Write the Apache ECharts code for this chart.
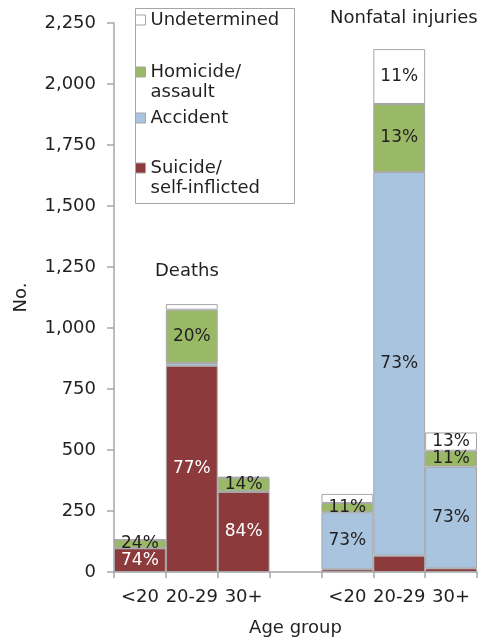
<!DOCTYPE html>
<html>
<head>
<meta charset="utf-8">
<script src="https://cdn.jsdelivr.net/npm/echarts@6/dist/echarts.min.js"></script>
<style>
  html, body { margin: 0; padding: 0; background: #fff; }
  #chart { width: 484px; height: 642px; }
</style>
</head>
<body>
<div id="chart"></div>
<script>
// age groups, deaths first then nonfatal injuries (empty slot between)
const categories = ['<20', '20-29', '30+', '', '<20', '20-29', '30+']

const suicide = [97, 845, 328, null, 11, 67, 15]
const accident = [2, 12, 3, null, 234, 1572, 417]
const homicide = [33, 218, 55, null, 38, 279, 65]
const undetermined = [1, 23, 4, null, 37, 225, 75]

const suicidePct = ['74%', '77%', '84%', '', '', '', '']
const accidentPct = ['', '', '', '', '73%', '73%', '73%']
const homicidePct = ['24%', '20%', '14%', '', '11%', '13%', '11%']
const undeterminedPct = ['', '', '', '', '', '11%', '13%']

const yTicks = { min: 0, max: 2250, interval: 250 }

const FONT = 'DejaVu Sans'
const TXT = '#231f20'
const GRAY = '#a6a6a6'

const chart = echarts.init(document.getElementById('chart'))

const mkSeries = (name, data, pcts, color, labelColor) => ({
  name,
  type: 'bar',
  stack: 'all',
  data,
  barCategoryGap: '0%',
  itemStyle: { color, borderColor: GRAY, borderWidth: 1 },
  label: {
    show: true,
    position: 'inside',
    color: labelColor,
    fontFamily: FONT,
    fontSize: 17,
    formatter: p => pcts[p.dataIndex] || ''
  },
  emphasis: { disabled: true }
})

// two-line legend entries get a blank first line so the icon sits beside line one
const legendText = {
  'Homicide/assault': '\nHomicide/\nassault',
  'Suicide/self-inflicted': '\nSuicide/\nself-inflicted'
}

const mkLegend = (name, top) => ({
  data: [name],
  left: 135,
  top,
  padding: 0,
  itemWidth: 10,
  itemHeight: 10,
  itemGap: 0,
  selectedMode: false,
  icon: 'rect',
  itemStyle: { borderColor: GRAY, borderWidth: 1 },
  formatter: n => legendText[n] || n,
  textStyle: {
    fontFamily: FONT,
    fontSize: 18,
    lineHeight: 20,
    color: TXT
  }
})

chart.setOption({
  animation: false,
  backgroundColor: '#fff',
  grid: { left: 114, right: 7, top: 23, bottom: 70, outerBoundsMode: 'none' },
  legend: [
    mkLegend('Undetermined', 10),
    mkLegend('Homicide/assault', 42),
    mkLegend('Accident', 108),
    mkLegend('Suicide/self-inflicted', 138)
  ],
  xAxis: {
    type: 'category',
    data: categories,
    name: 'Age group',
    nameLocation: 'middle',
    nameGap: 47,
    nameTextStyle: { fontFamily: FONT, fontSize: 18, color: TXT },
    axisLine: { lineStyle: { color: GRAY, width: 1.5 } },
    axisTick: { show: true, interval: 0, length: 6, lineStyle: { color: GRAY, width: 1.5 } },
    axisLabel: { interval: 0, margin: 16, fontFamily: FONT, fontSize: 18, color: TXT },
    splitLine: { show: false }
  },
  yAxis: {
    type: 'value',
    min: yTicks.min,
    max: yTicks.max,
    interval: yTicks.interval,
    name: 'No.',
    nameLocation: 'middle',
    nameGap: 84,
    nameTextStyle: { fontFamily: FONT, fontSize: 18, color: TXT },
    axisLine: { show: true, lineStyle: { color: GRAY, width: 1.5 } },
    axisTick: { show: true, length: 7, lineStyle: { color: GRAY, width: 1.5 } },
    axisLabel: {
      margin: 18,
      fontFamily: FONT,
      fontSize: 18,
      color: TXT,
      formatter: v => v.toLocaleString('en-US')
    },
    splitLine: { show: false }
  },
  graphic: [
    {
      type: 'rect',
      left: 133, top: 6,
      shape: { width: 159, height: 195 },
      style: { fill: 'none', stroke: GRAY, lineWidth: 1 },
      z: -1
    },
    {
      type: 'text',
      left: 155, top: 262,
      style: { text: 'Deaths', font: '18px "DejaVu Sans"', fill: TXT }
    },
    {
      type: 'text',
      left: 330, top: 9,
      style: { text: 'Nonfatal injuries', font: '18px "DejaVu Sans"', fill: TXT }
    }
  ],
  series: [
    mkSeries('Suicide/self-inflicted', suicide, suicidePct, '#8c3a3c', '#fff'),
    mkSeries('Accident', accident, accidentPct, '#a9c4de', TXT),
    mkSeries('Homicide/assault', homicide, homicidePct, '#99b966', TXT),
    mkSeries('Undetermined', undetermined, undeterminedPct, '#fff', TXT)
  ]
})
</script>
</body>
</html>
